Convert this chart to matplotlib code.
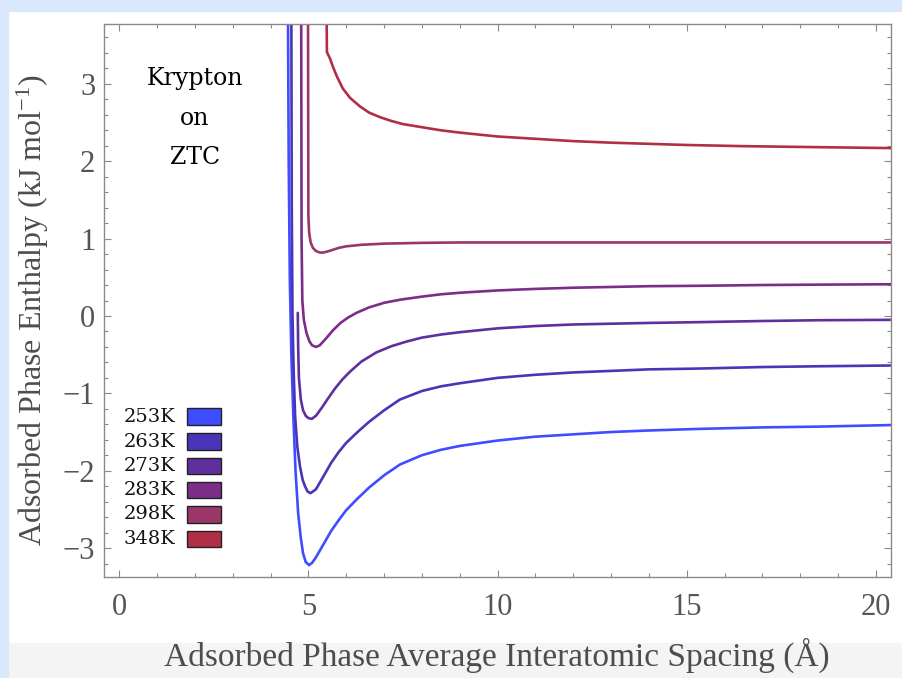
import matplotlib
matplotlib.use("Agg")
import matplotlib.pyplot as plt
from matplotlib.patches import Rectangle
from matplotlib.ticker import MultipleLocator

plt.rcParams["mathtext.fontset"] = "custom"
plt.rcParams["mathtext.rm"] = "Liberation Serif"
plt.rcParams["mathtext.it"] = "Liberation Serif:italic"

temps = ["253K", "263K", "273K", "283K", "298K", "348K"]
colors = ["#3f4cff", "#4a34b8", "#5f2f9e", "#7b2d88", "#9a3668", "#b02f45"]

# spacing (angstrom) / enthalpy (kJ/mol) for each isotherm
x_253 = [4.46, 4.48, 4.51, 4.55, 4.60, 4.66, 4.73, 4.80, 4.86, 4.93, 5.02, 5.10, 5.20, 5.40,
         5.60, 5.80, 6.00, 6.30, 6.60, 7.00, 7.42, 8.00, 8.50, 9.00, 10.0, 11.0, 12.0, 13.0,
         14.0, 15.3, 17.0, 18.5, 20.4]
y_253 = [4.00, 2.00, 0.47, -0.50, -1.26, -2.00, -2.55, -2.87, -3.07, -3.18, -3.22, -3.19, -3.12, -2.95,
         -2.78, -2.64, -2.51, -2.36, -2.22, -2.06, -1.92, -1.80, -1.73, -1.68, -1.61, -1.56, -1.53, -1.50,
         -1.48, -1.46, -1.44, -1.43, -1.41]

x_263 = [4.55, 4.56, 4.58, 4.61, 4.65, 4.71, 4.78, 4.85, 4.91, 4.98, 5.06, 5.20, 5.39, 5.60,
         5.80, 6.00, 6.30, 6.60, 7.00, 7.42, 8.00, 8.50, 9.00, 10.0, 11.0, 12.0, 13.0, 14.0,
         15.3, 17.0, 18.5, 20.4]
y_263 = [4.00, 1.50, 0.00, -0.70, -1.30, -1.70, -1.95, -2.12, -2.20, -2.27, -2.29, -2.24, -2.08, -1.90,
         -1.76, -1.64, -1.50, -1.37, -1.22, -1.08, -0.97, -0.91, -0.87, -0.80, -0.76, -0.73, -0.71, -0.69,
         -0.68, -0.66, -0.65, -0.64]

x_273 = [4.72, 4.73, 4.75, 4.80, 4.86, 4.93, 5.00, 5.09, 5.20, 5.35, 5.50, 5.70, 5.90, 6.10,
         6.40, 6.80, 7.20, 7.60, 8.00, 8.50, 9.00, 10.0, 11.0, 12.0, 13.0, 14.0, 15.3, 17.0,
         18.5, 20.4]
y_273 = [0.04, -0.40, -0.80, -1.08, -1.22, -1.29, -1.32, -1.33, -1.29, -1.19, -1.08, -0.94, -0.82, -0.72,
         -0.59, -0.47, -0.39, -0.33, -0.28, -0.24, -0.21, -0.16, -0.13, -0.11, -0.10, -0.09, -0.08, -0.065,
         -0.055, -0.05]

x_283 = [4.81, 4.82, 4.84, 4.88, 4.95, 5.03, 5.10, 5.20, 5.30, 5.45, 5.66, 5.85, 6.05, 6.27,
         6.60, 7.00, 7.42, 8.00, 8.50, 9.00, 10.0, 11.0, 12.0, 13.0, 14.0, 15.3, 17.0, 18.5,
         20.4]
y_283 = [4.00, 1.00, 0.20, -0.05, -0.22, -0.33, -0.38, -0.40, -0.38, -0.30, -0.18, -0.09, -0.02, 0.04,
         0.11, 0.17, 0.21, 0.25, 0.28, 0.30, 0.33, 0.35, 0.365, 0.375, 0.385, 0.39, 0.40, 0.405,
         0.41]

x_298 = [4.99, 5.00, 5.02, 5.06, 5.12, 5.20, 5.30, 5.40, 5.55, 5.80, 6.00, 6.40, 7.00, 8.00,
         9.00, 20.4]
y_298 = [4.00, 1.30, 1.08, 0.95, 0.88, 0.84, 0.82, 0.82, 0.84, 0.88, 0.90, 0.92, 0.935, 0.945,
         0.95, 0.95]

x_348 = [5.48, 5.49, 5.57, 5.65, 5.75, 5.91, 6.10, 6.36, 6.60, 6.89, 7.20, 7.50, 8.00, 8.50,
         9.00, 10.0, 11.0, 12.0, 13.0, 14.0, 15.0, 16.5, 18.0, 20.4]
y_348 = [4.00, 3.41, 3.33, 3.22, 3.10, 2.94, 2.82, 2.71, 2.63, 2.57, 2.52, 2.48, 2.44, 2.40,
         2.37, 2.32, 2.29, 2.26, 2.24, 2.225, 2.21, 2.195, 2.185, 2.17]

xs = [x_253, x_263, x_273, x_283, x_298, x_348]
ys = [y_253, y_263, y_273, y_283, y_298, y_348]

W, H = 903, 678
fig = plt.figure(figsize=(W / 100, H / 100), dpi=100)
fig.patch.set_facecolor("white")

# page background bands
fig.add_artist(Rectangle((0, 0), 1, 35 / H, transform=fig.transFigure, color="#f4f4f4", zorder=-10))
fig.add_artist(Rectangle((0, 1 - 11 / H), 1, 11 / H, transform=fig.transFigure, color="#dae8fc", zorder=-9))
fig.add_artist(Rectangle((0, 0), 8 / W, 1, transform=fig.transFigure, color="#dae8fc", zorder=-9))

ax_l, ax_t, ax_r, ax_b = 103.7, 24.3, 891.0, 576.7
ax = fig.add_axes([ax_l / W, 1 - ax_b / H, (ax_r - ax_l) / W, (ax_b - ax_t) / H])

for x, y, c in zip(xs, ys, colors):
    ax.plot(x, y, color=c, lw=1.9, solid_joinstyle="round", solid_capstyle="round")

ax.set_xlim(-0.41, 20.4)
ax.set_ylim(-3.37, 3.77)
ax.xaxis.set_major_locator(MultipleLocator(5))
ax.xaxis.set_minor_locator(MultipleLocator(1))
ax.yaxis.set_major_locator(MultipleLocator(1))
ax.yaxis.set_minor_locator(MultipleLocator(0.2))

frame = "#8a8a8a"
for s in ax.spines.values():
    s.set_color(frame)
    s.set_linewidth(1.0)
ax.tick_params(which="both", direction="in", top=True, right=True, color=frame, width=0.8)
ax.tick_params(which="major", length=5)
ax.tick_params(which="minor", length=3)
ax.tick_params(axis="x", which="major", pad=12)
ax.tick_params(axis="y", which="major", pad=6)

tick_font = dict(family="Liberation Serif", size=22, color="#555555")
ax.set_xticks([0, 5, 10, 15, 20])
ax.set_xticklabels(["0", "5", "10", "15", "20"], **tick_font)
ax.set_yticks([-3, -2, -1, 0, 1, 2, 3])
ax.set_yticklabels(["\u22123", "\u22122", "\u22121", "0", "1", "2", "3"], **tick_font)

fig.text(496.5 / W, 1 - 655 / H, "Adsorbed Phase Average Interatomic Spacing (Å)",
         ha="center", va="center", family="Liberation Serif", size=24, color="#4d4d4d")
fig.text(33 / W, 1 - 310 / H, "Adsorbed Phase Enthalpy (kJ mol$^{\\mathrm{-1}}$)",
         ha="center", va="center", rotation=90, family="Liberation Serif", size=23, color="#4d4d4d")

# sample annotation
for line, yb in zip(["Krypton", "on", "ZTC"], [85, 125, 163.5]):
    ax.text(0.1156, (ax_b - yb) / (ax_b - ax_t), line, transform=ax.transAxes,
            ha="center", va="baseline", family="DejaVu Serif", fontsize=17, color="black")

# colour key
row_y = [416.7, 441.7, 466.0, 490.0, 514.3, 539.0]
aw, ah = ax_r - ax_l, ax_b - ax_t
for t, c, py in zip(temps, colors, row_y):
    yc = (ax_b - py) / ah
    ax.text((123.3 - ax_l) / aw, yc, t, transform=ax.transAxes, ha="left", va="center",
            family="DejaVu Serif", fontsize=14, color="#111111")
    ax.add_patch(Rectangle(((186.7 - ax_l) / aw, yc - 8.3 / ah), 34 / aw, 16.7 / ah,
                           transform=ax.transAxes, facecolor=c, edgecolor="#222222", lw=1.0))

fig.savefig("out.png", dpi=100)
